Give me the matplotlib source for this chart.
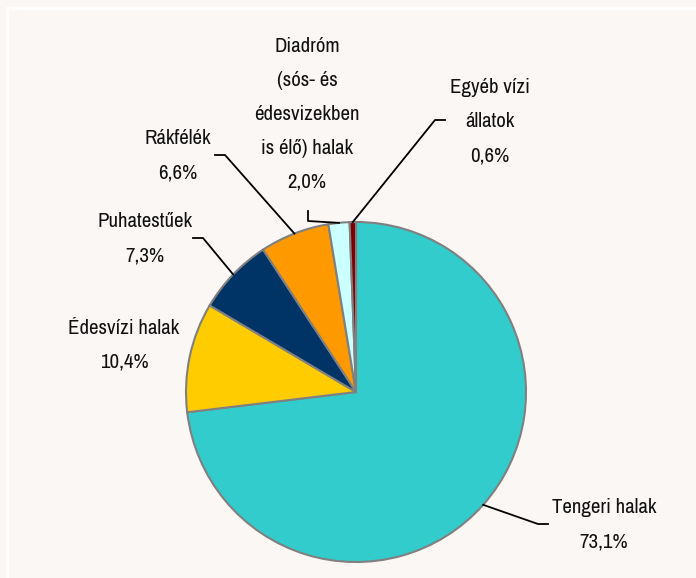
import numpy as np
import matplotlib
matplotlib.use("Agg")
import matplotlib.pyplot as plt
from matplotlib.lines import Line2D

plt.rcParams['font.family'] = ['Archivo Narrow', 'Roboto Condensed', 'Liberation Sans', 'DejaVu Sans']

# data (share of catch, %)
categories = ["Tengeri halak", "Édesvízi halak", "Puhatestűek", "Rákfélék",
              "Diadróm\n(sós- és\nédesvizekben\nis élő) halak", "Egyéb vízi\nállatok"]
shares = [73.1, 10.4, 7.3, 6.6, 2.0, 0.6]
share_labels = ["73,1%", "10,4%", "7,3%", "6,6%", "2,0%", "0,6%"]
colors = ["#33CCCC", "#FFCC00", "#003366", "#FF9900", "#CCFFFF", "#800000"]

W, H = 696, 578
bg = "#FBF7F5"
fig = plt.figure(figsize=(W / 100, H / 100), dpi=100, facecolor=bg)

# pie centre and radius in pixels
cx, cy, R = 356, 392, 170
ax = fig.add_axes([(cx - R) / W, 1 - (cy + R) / H, 2 * R / W, 2 * R / H])
ax.set_facecolor(bg)

wedges, _ = ax.pie(shares, colors=colors, startangle=90, counterclock=False,
                   radius=1, wedgeprops=dict(edgecolor="#808080", linewidth=1.5))
ax.set_xlim(-1, 1)
ax.set_ylim(-1, 1)
ax.set_aspect("equal")
ax.axis("off")


def to_data(px, py):
    return (px - cx) / R, (cy - py) / R


# label block centres (pixels) and leader elbow points (pixels), None = no leader
label_pos = [(604, 524.5), (124, 345.5), (145, 238.5), (178, 156), (307, 114), (490, 121.5)]
leaders = [
    [(548, 524), (538, 524)],
    None,
    [(193, 238), (203, 238)],
    [(215, 155), (225, 155)],
    [(308, 211), (308, 221)],
    [(445, 120), (435, 120)],
]

for i, w in enumerate(wedges):
    x, y = to_data(*label_pos[i])
    ax.text(x, y, categories[i] + "\n" + share_labels[i], ha="center", va="center",
            fontsize=15, linespacing=2.0, color="#111111", clip_on=False)
    if leaders[i] is None:
        continue
    mid = np.deg2rad((w.theta1 + w.theta2) / 2)
    pts = [to_data(*p) for p in leaders[i]] + [(np.cos(mid), np.sin(mid))]
    xs, ys = zip(*pts)
    ax.add_line(Line2D(xs, ys, color="black", linewidth=1.3, clip_on=False))

# thin white frame lines (top and left)
fig.add_artist(Line2D([7 / W, 1], [1 - 8 / H, 1 - 8 / H], color="white", linewidth=2))
fig.add_artist(Line2D([7 / W, 7 / W], [0, 1 - 8 / H], color="white", linewidth=2))

fig.savefig("out.png", dpi=100, facecolor=bg)
